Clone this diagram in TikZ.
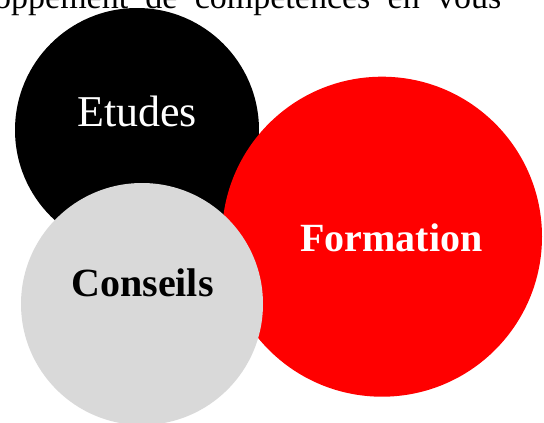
\documentclass[tikz,border=0pt]{standalone}
\usepackage{fontspec}
\setmainfont{Liberation Serif}
\definecolor{conseilgray}{HTML}{D9D9D9}
\definecolor{formred}{HTML}{FF0000}
\tikzset{
  bubble/.style={circle, inner sep=0pt, draw=none},
  bigtext/.style={anchor=base, inner sep=0pt, font=\fontsize{40}{44}\selectfont\bfseries},
}
\begin{document}
\begin{tikzpicture}[x=1pt,y=-1pt]
\useasboundingbox (0,0) rectangle (544,423);
\clip (0,0) rectangle (544,423);
\node[anchor=base west, inner sep=0pt, font=\fontsize{34}{38}\selectfont] (top) at (-6,9)
  {\makebox[507pt][s]{oppement de compétences en vous}};
\node[bubble, fill=black, minimum size=244pt] (etudes) at (137,130) {};
\node[bubble, fill=formred, minimum size=320pt] (formation) at (382,236.7) {};
\node[bubble, fill=conseilgray, minimum size=242pt] (conseils) at (142,304) {};
\node[anchor=base, inner sep=0pt, text=white, font=\fontsize{44}{48}\selectfont] (etudesT) at (137,126.7) {Etudes};
\node[bigtext, text=white] (formationT) at (391.5,251.7) {Formation};
\node[bigtext, text=black] (conseilsT) at (142.5,296) {Conseils};
\end{tikzpicture}
\end{document}
